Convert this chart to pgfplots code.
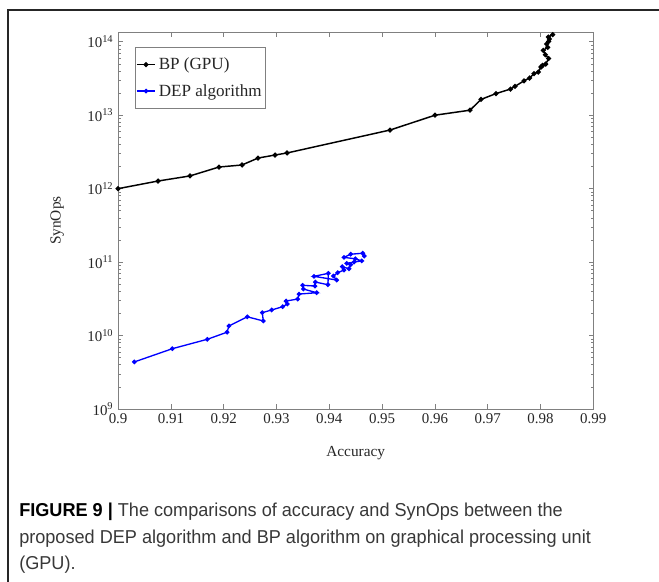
\documentclass[border=0pt]{standalone}
\usepackage{pgfplots}
\pgfplotsset{compat=1.18}
\usepackage{fontspec}
\setmainfont{Liberation Serif}
\newfontfamily\capfont[FakeStretch=0.97]{Liberation Sans}
\definecolor{axgray}{gray}{0.5}
\definecolor{txtgray}{gray}{0.15}
\definecolor{capgray}{gray}{0.22}
\definecolor{mblue}{rgb}{0,0,1}

\pgfplotstableread{
x y
0.9000 1.00e12
0.90756 1.27e12
0.91362 1.49e12
0.91911 1.97e12
0.92347 2.10e12
0.9265 2.61e12
0.92972 2.87e12
0.93199 3.06e12
0.95150 6.28e12
0.96002 1.00e13
0.96665 1.17e13
0.96873 1.64e13
0.97157 1.97e13
0.97432 2.27e13
0.97517 2.47e13
0.97688 2.94e13
0.97792 3.21e13
0.97877 3.69e13
0.97958 3.87e13
0.98009 4.53e13
0.98038 4.75e13
0.98098 4.97e13
0.98155 5.91e13
0.98091 6.65e13
0.98053 7.64e13
0.98136 8.40e13
0.98117 9.31e13
0.98155 1.01e14
0.98167 1.09e14
0.98148 1.16e14
0.98231 1.25e14
}\bptable

\pgfplotstableread{
x y
0.90307 4.37e9
0.91027 6.62e9
0.91689 8.89e9
0.92063 1.11e10
0.92100 1.35e10
0.92447 1.80e10
0.92750 1.58e10
0.92731 2.05e10
0.92909 2.23e10
0.93117 2.47e10
0.93205 2.69e10
0.93180 2.95e10
0.93402 3.14e10
0.93426 3.67e10
0.93761 3.83e10
0.93508 4.30e10
0.93496 4.83e10
0.93729 4.72e10
0.93735 5.35e10
0.93975 4.92e10
0.93981 7.03e10
0.93710 6.40e10
0.94140 5.70e10
0.94076 6.47e10
0.94159 7.17e10
0.94278 7.80e10
0.94246 8.65e10
0.94373 8.12e10
0.94405 9.21e10
0.94330 9.62e10
0.94468 1.00e11
0.94614 1.04e11
0.94492 1.11e11
0.94278 1.16e11
0.94405 1.28e11
0.94633 1.32e11
0.94663 1.21e11
}\deptable

\begin{document}
\begin{tikzpicture}
\begin{scope}[x=0.75pt,y=0.75pt]
\path[use as bounding box] (0,0) rectangle (659,581);
\draw[black!85, line width=0.9pt] (8,-5) -- (8,571) -- (670,571);
\node[anchor=west, inner sep=0pt, font=\capfont\fontsize{14}{16}\selectfont, text=capgray] at (19,69) {\textbf{\color{black}FIGURE 9 |} The comparisons of accuracy and SynOps between the};
\node[anchor=west, inner sep=0pt, font=\capfont\fontsize{14}{16}\selectfont, text=capgray] at (19,42) {proposed DEP algorithm and BP algorithm on graphical processing unit};
\node[anchor=west, inner sep=0pt, font=\capfont\fontsize{14}{16}\selectfont, text=capgray] at (19,16) {(GPU).};
\end{scope}
\begin{axis}[
  at={(88.575pt,129pt)}, anchor=south west,
  scale only axis, width=356.4pt, height=282.6pt,
  xmin=0.9, xmax=0.99,
  ymode=log, ymin=1e9, ymax=1.35e14,
  xtick={0.9,0.91,0.92,0.93,0.94,0.95,0.96,0.97,0.98,0.99},
  xticklabels={0.9,0.91,0.92,0.93,0.94,0.95,0.96,0.97,0.98,0.99},
  ytick={1e9,1e10,1e11,1e12,1e13,1e14},
  yticklabels={10\textsuperscript{9},10\textsuperscript{10},10\textsuperscript{11},10\textsuperscript{12},10\textsuperscript{13},10\textsuperscript{14}},
  tick align=inside,
  major tick length=3.5pt, minor tick length=2pt,
  axis line style={axgray, line width=0.6pt},
  tick style={axgray, line width=0.5pt},
  ticklabel style={font=\fontsize{11.2}{12}\selectfont, text=txtgray},
  xlabel={Accuracy}, ylabel={SynOps},
  label style={font=\fontsize{11.5}{12}\selectfont, text=txtgray},
  xlabel style={at={(axis description cs:0.5,-0.116)}, anchor=center},
  ylabel style={at={(axis description cs:-0.128,0.5)}, anchor=center},
  legend style={at={(axis description cs:0.0356,0.9615)}, anchor=north west,
    draw=axgray, line width=0.5pt, font=\fontsize{12.8}{15}\selectfont, text=txtgray,
    inner xsep=0.5pt, inner ysep=6pt, row sep=5.5pt},
  legend cell align=left,
  legend image code/.code={\draw[mark repeat=2,mark phase=2,#1] plot coordinates {(0pt,0pt) (7pt,0pt) (14pt,0pt)};},
  clip=true,
]
\addplot[black, line width=1.1pt, mark=*, mark size=1.3pt] table[x=x,y=y] {\bptable};
\addlegendentry{BP (GPU)}
\addplot[mblue, line width=1.0pt, mark=*, mark size=1.2pt] table[x=x,y=y] {\deptable};
\addlegendentry{DEP algorithm}
\end{axis}
\end{tikzpicture}
\end{document}
